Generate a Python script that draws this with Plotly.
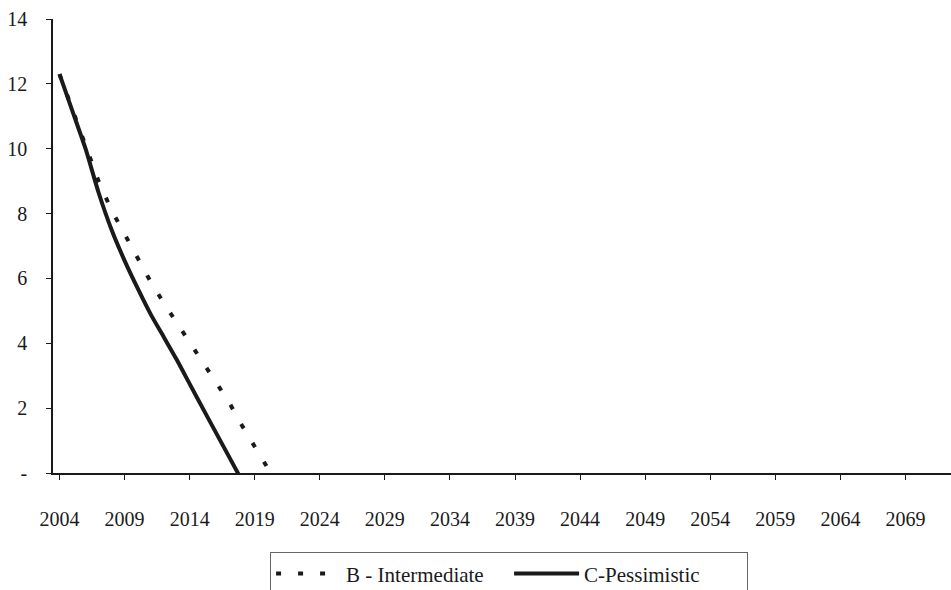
import plotly.graph_objects as go

# Projection years (one value per year)
years = list(range(2004, 2021))

# B - Intermediate scenario
intermediate = [12.3, 11.2, 10.1, 9.0, 8.1, 7.35, 6.6, 5.9, 5.25, 4.65, 4.05, 3.45,
                2.85, 2.2, 1.48, 0.8, 0.15]

# C - Pessimistic scenario (reaches zero a couple of years earlier)
pess_years = list(range(2004, 2019))
pessimistic = [12.3, 11.15, 10.0, 8.65, 7.5, 6.55, 5.7, 4.9, 4.2, 3.5, 2.75, 2.0,
               1.26, 0.52, -0.22]

# Axis labelling
x_tick_years = list(range(2004, 2070, 5))
y_tick_vals = [0, 2, 4, 6, 8, 10, 12, 14]
y_tick_text = ["-", "2", "4", "6", "8", "10", "12", "14"]

FONT = "Liberation Serif"
INK = "#1a1a1a"

fig = go.Figure()
fig.add_trace(go.Scatter(
    x=years, y=intermediate, mode="lines", name="B - Intermediate",
    line=dict(color=INK, width=4, dash="5px,17px"),
))
fig.add_trace(go.Scatter(
    x=pess_years, y=pessimistic, mode="lines", name="C-Pessimistic",
    line=dict(color=INK, width=4, shape="spline", smoothing=0.6),
))

fig.update_layout(
    width=951, height=590,
    margin=dict(l=53, r=0, t=19, b=117, autoexpand=False),
    paper_bgcolor="white", plot_bgcolor="white",
    font=dict(family=FONT, size=20, color=INK),
    showlegend=True,
    legend=dict(
        orientation="h", xref="container", yref="container",
        x=0.284, xanchor="left", y=0.064, yanchor="top",
        bordercolor="#666666", borderwidth=1, bgcolor="white",
        font=dict(family=FONT, size=21, color=INK),
        itemwidth=65, entrywidth=158, entrywidthmode="pixels",
    ),
    xaxis=dict(
        range=[2003.5, 2072.5], tickmode="array", tickvals=x_tick_years,
        ticktext=[str(v) for v in x_tick_years],
        showgrid=False, zeroline=False, showline=True, linecolor=INK, linewidth=1.5,
        ticks="outside", ticklen=5, tickcolor=INK, ticklabelstandoff=22,
        tickfont=dict(family=FONT, size=20, color=INK),
    ),
    yaxis=dict(
        range=[0, 14], tickmode="array", tickvals=y_tick_vals, ticktext=y_tick_text,
        showgrid=False, zeroline=False, showline=True, linecolor=INK, linewidth=1.5,
        ticks="outside", ticklen=5, tickcolor=INK, ticklabelstandoff=15,
        tickfont=dict(family=FONT, size=20, color=INK),
    ),
)

fig.write_html("out.html")
